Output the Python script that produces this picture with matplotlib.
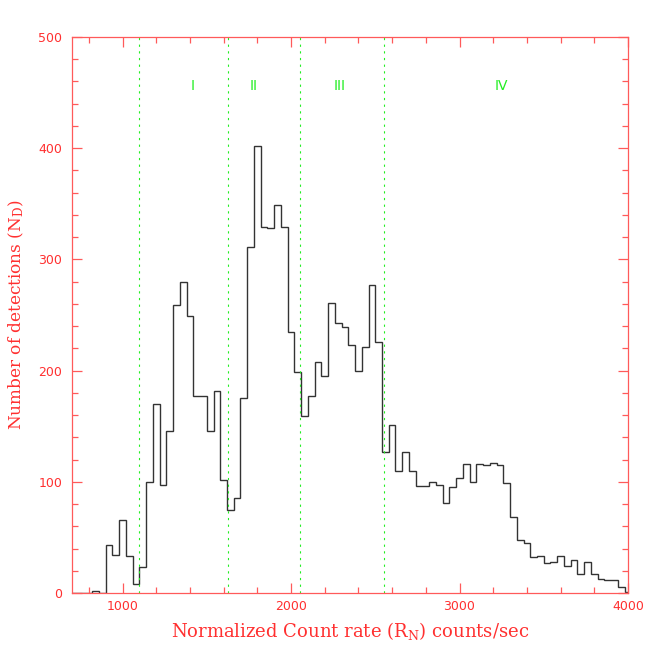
import matplotlib
matplotlib.use("Agg")
import matplotlib.pyplot as plt
import numpy as np
from matplotlib.ticker import MultipleLocator

# ---- data ----
bin_start = 700
bin_width = 40
counts = [0, 0, 0, 2, 0,
          43, 34, 66, 33, 8, 23, 100, 170, 97, 146,
          259, 280, 249, 177, 177, 146, 182, 102, 75, 85,
          175, 311, 402, 329, 328, 349, 329, 235, 199, 159,
          177, 208, 195, 261, 243, 239, 223, 200, 221, 277,
          226, 127, 151, 110, 127, 110, 96, 96, 100, 97,
          81, 95, 103, 116, 100, 116, 115, 117, 115, 99,
          68, 48, 45, 32, 33, 27, 28, 33, 24, 30,
          17, 28, 17, 13, 12, 12, 5, 1]
region_bounds = [1100, 1628, 2055, 2553]
region_names = ["I", "II", "III", "IV"]
region_label_x = [1416, 1776, 2290, 3250]
region_label_y = 456

edges = bin_start + bin_width * np.arange(len(counts) + 1)

RED = "#ff3030"
SPINE = "#ff5a5a"
GREEN = "#22ee22"

plt.rcParams["mathtext.fontset"] = "dejavuserif"

fig = plt.figure(figsize=(6.64, 6.64), dpi=100)
ax = fig.add_axes([72/664, 71/664, 556/664, 556/664])

ax.stairs(counts, edges, color="#333333", linewidth=1.0, baseline=0)

for xb in region_bounds:
    ax.axvline(xb, color=GREEN, linestyle=(0, (2, 4)), linewidth=0.8)
for name, xl in zip(region_names, region_label_x):
    ax.text(xl, region_label_y, name, color=GREEN, fontsize=10,
            ha="center", va="center", family="DejaVu Sans")

ax.set_xlim(700, 4000)
ax.set_ylim(0, 500)

ax.xaxis.set_major_locator(MultipleLocator(1000))
ax.xaxis.set_minor_locator(MultipleLocator(200))
ax.yaxis.set_major_locator(MultipleLocator(100))
ax.yaxis.set_minor_locator(MultipleLocator(20))

for s in ax.spines.values():
    s.set_color(SPINE)
    s.set_linewidth(0.9)

ax.tick_params(which="both", direction="in", top=True, right=True,
               colors=SPINE, labelcolor=RED, labelsize=9)
ax.tick_params(which="major", length=7, width=0.9)
ax.tick_params(which="minor", length=4, width=0.9)
ax.tick_params(axis="x", pad=5)
ax.tick_params(axis="y", pad=7)

ax.set_xlabel("Normalized Count rate (R$_\\mathrm{N}$) counts/sec",
              color=RED, fontsize=13, family="DejaVu Serif", labelpad=5)
ax.set_ylabel("Number of detections (N$_\\mathrm{D}$)",
              color=RED, fontsize=12.2, family="DejaVu Serif", labelpad=9)

fig.savefig("out.png", dpi=100, facecolor="white")
